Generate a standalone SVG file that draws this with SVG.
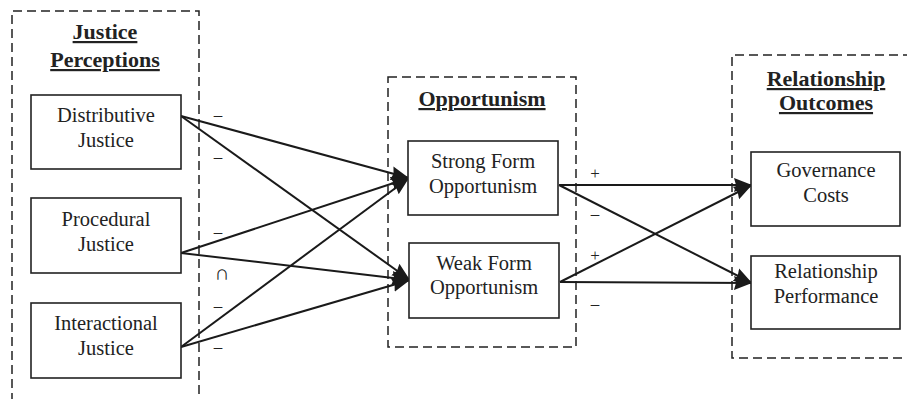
<svg xmlns="http://www.w3.org/2000/svg" width="907" height="399" viewBox="0 0 907 399">
<style>
.bg{fill:#fff}
.grp{fill:none;stroke:#222;stroke-width:1.5;stroke-dasharray:9,5}
.box{fill:#fff;stroke:#222;stroke-width:1.6}
.t{font-family:"Liberation Serif","Times New Roman",serif;font-size:20.5px;fill:#222;text-anchor:middle}
.h{font-family:"Liberation Serif","Times New Roman",serif;font-size:22px;font-weight:bold;fill:#222;text-anchor:middle;text-decoration:underline}
.s{font-family:"Liberation Serif","Times New Roman",serif;font-size:17px;fill:#222;text-anchor:middle}
.c{fill:none;stroke:#1a1a1a;stroke-width:2;marker-end:url(#ah)}
</style>
<defs>
<marker id="ah" markerUnits="userSpaceOnUse" markerWidth="20" markerHeight="18" refX="18" refY="9" orient="auto">
<path d="M0,2 L18,9 L0,16 L2,9 z" fill="#1a1a1a"/>
</marker>
</defs>
<rect class="bg" x="0" y="0" width="907" height="399"/>
<g id="group-justice">
<path class="grp" d="M12,402 V11 H199 V402"/>
<text class="h" x="105" y="39">Justice</text>
<text class="h" x="105" y="67">Perceptions</text>
</g>
<g id="group-opportunism">
<rect class="grp" x="388" y="77" width="188" height="270"/>
<text class="h" x="482" y="106">Opportunism</text>
</g>
<g id="group-outcomes">
<path class="grp" d="M912,55 H732 V358 H912"/>
<text class="h" x="826" y="86">Relationship</text>
<text class="h" x="826" y="110">Outcomes</text>
</g>
<g id="connectors">
<line class="c" x1="181" y1="116" x2="409" y2="178"/>
<line class="c" x1="181" y1="116" x2="410" y2="280"/>
<line class="c" x1="181" y1="253" x2="409" y2="178"/>
<line class="c" x1="181" y1="253" x2="410" y2="280"/>
<line class="c" x1="181" y1="347" x2="409" y2="178"/>
<line class="c" x1="181" y1="347" x2="410" y2="280"/>
<line class="c" x1="559" y1="185" x2="752" y2="185"/>
<line class="c" x1="559" y1="185" x2="752" y2="283"/>
<line class="c" x1="560" y1="282" x2="752" y2="185"/>
<line class="c" x1="560" y1="282" x2="752" y2="283"/>
<text class="s" x="218" y="120">–</text>
<text class="s" x="218" y="162">–</text>
<text class="s" x="218" y="237">–</text>
<text class="s" x="222" y="280" style="font-size:21px">∩</text>
<text class="s" x="218" y="311">–</text>
<text class="s" x="218" y="352">–</text>
<text class="s" x="595" y="179">+</text>
<text class="s" x="595" y="219">–</text>
<text class="s" x="595" y="261">+</text>
<text class="s" x="595" y="309">–</text>
</g>
<g id="distributive">
<rect class="box" x="31" y="95" width="150" height="74"/>
<text class="t" x="106" y="122">Distributive</text>
<text class="t" x="106" y="147">Justice</text>
</g>
<g id="procedural">
<rect class="box" x="31" y="198" width="150" height="75"/>
<text class="t" x="106" y="226">Procedural</text>
<text class="t" x="106" y="251">Justice</text>
</g>
<g id="interactional">
<rect class="box" x="31" y="303" width="150" height="75"/>
<text class="t" x="106" y="330">Interactional</text>
<text class="t" x="106" y="355">Justice</text>
</g>
<g id="strong">
<rect class="box" x="408" y="141" width="150" height="74"/>
<text class="t" x="483" y="168">Strong Form</text>
<text class="t" x="483" y="193">Opportunism</text>
</g>
<g id="weak">
<rect class="box" x="409" y="243" width="150" height="75"/>
<text class="t" x="484" y="270">Weak Form</text>
<text class="t" x="484" y="294">Opportunism</text>
</g>
<g id="governance">
<rect class="box" x="751" y="152" width="149" height="74"/>
<text class="t" x="826" y="177">Governance</text>
<text class="t" x="826" y="202">Costs</text>
</g>
<g id="performance">
<rect class="box" x="751" y="256" width="149" height="73"/>
<text class="t" x="826" y="278">Relationship</text>
<text class="t" x="826" y="303">Performance</text>
</g>
</svg>
